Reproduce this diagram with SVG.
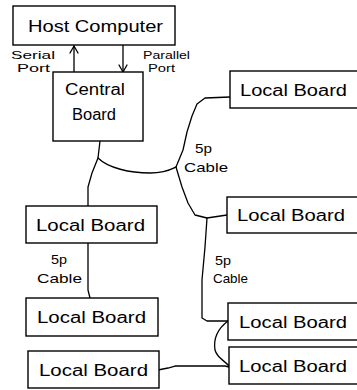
<svg xmlns="http://www.w3.org/2000/svg" width="357" height="390" viewBox="0 0 357 390">
<style>
.box{fill:#fff;stroke:#000;stroke-width:1.4}
.t{font-family:"Liberation Sans",Arial,sans-serif;font-size:16px;fill:#000}
.s{font-family:"Liberation Sans",Arial,sans-serif;font-size:13px;fill:#000}
.p{font-family:"Liberation Sans",Arial,sans-serif;font-size:11px;fill:#000}
.c{fill:none;stroke:#000;stroke-width:1.3;stroke-linejoin:round;stroke-linecap:round}
</style>
<rect width="357" height="390" fill="#fff"/>
<g id="connectors">
<line class="c" x1="74" y1="72" x2="74" y2="46"/>
<polyline class="c" points="70,53 74,46 78,53"/>
<line class="c" x1="123" y1="45" x2="123" y2="72"/>
<polyline class="c" points="119,65 123,72 127,65"/>
<path class="c" d="M100,141 L98,158 L92,173 L88,187 L88,206"/>
<path class="c" d="M98,158 C108,168 130,173 150,173 C165,173 172,169 176,167"/>
<path class="c" d="M176,167 L183,150 L187,132 L192,116 L197,104 L205,98 L230,97"/>
<path class="c" d="M176,167 L182,187 L188,203 L195,215 L207,218 L227,215"/>
<path class="c" d="M207,218 L205,247 L202,280 L202,318 L207,321 L228,321"/>
<path class="c" d="M228,321 C220,327 213,337 215,350 C217,358 224,360 229,366"/>
<path class="c" d="M158,370 L168,368 L175,366 L203,366 L225,366 L229,367"/>
<path class="c" d="M88,243 L88,290 L90,298"/>
</g>
<g id="host"><rect class="box" x="13" y="6" width="162" height="39"/><text class="t" x="28" y="32" textLength="135" lengthAdjust="spacingAndGlyphs">Host Computer</text></g>
<g id="central"><rect class="box" x="53" y="72" width="90" height="69"/><text class="t" x="65" y="95" textLength="60" lengthAdjust="spacingAndGlyphs">Central</text><text class="t" x="72" y="120" textLength="44" lengthAdjust="spacingAndGlyphs">Board</text></g>
<g id="lb-r1"><rect class="box" x="230" y="71" width="135" height="37"/><text class="t" x="240" y="96" textLength="107" lengthAdjust="spacingAndGlyphs">Local Board</text></g>
<g id="lb-r2"><rect class="box" x="227" y="197" width="138" height="36"/><text class="t" x="237" y="221" textLength="108" lengthAdjust="spacingAndGlyphs">Local Board</text></g>
<g id="lb-r3"><rect class="box" x="228" y="303" width="137" height="37"/><text class="t" x="239" y="328" textLength="108" lengthAdjust="spacingAndGlyphs">Local Board</text></g>
<g id="lb-r4"><rect class="box" x="229" y="347" width="136" height="37"/><text class="t" x="239" y="372" textLength="108" lengthAdjust="spacingAndGlyphs">Local Board</text></g>
<g id="lb-l1"><rect class="box" x="26" y="206" width="131" height="37"/><text class="t" x="36" y="231" textLength="109" lengthAdjust="spacingAndGlyphs">Local Board</text></g>
<g id="lb-l2"><rect class="box" x="26" y="298" width="132" height="38"/><text class="t" x="37" y="323" textLength="109" lengthAdjust="spacingAndGlyphs">Local Board</text></g>
<g id="lb-l3"><rect class="box" x="28" y="351" width="131" height="37"/><text class="t" x="39" y="376" textLength="109" lengthAdjust="spacingAndGlyphs">Local Board</text></g>
<g id="labels">
<text class="p" x="11" y="59" textLength="44" lengthAdjust="spacingAndGlyphs">Serial</text>
<text class="p" x="17" y="72" textLength="33" lengthAdjust="spacingAndGlyphs">Port</text>
<text class="p" x="143" y="59" textLength="47" lengthAdjust="spacingAndGlyphs">Parallel</text>
<text class="p" x="148" y="72" textLength="27" lengthAdjust="spacingAndGlyphs">Port</text>
<text class="s" x="195" y="153" textLength="17" lengthAdjust="spacingAndGlyphs">5p</text>
<text class="s" x="184" y="172" textLength="44" lengthAdjust="spacingAndGlyphs">Cable</text>
<text class="s" x="215" y="265" textLength="16" lengthAdjust="spacingAndGlyphs">5p</text>
<text class="s" x="213" y="283" textLength="35" lengthAdjust="spacingAndGlyphs">Cable</text>
<text class="s" x="51" y="264" textLength="16" lengthAdjust="spacingAndGlyphs">5p</text>
<text class="s" x="37" y="283" textLength="45" lengthAdjust="spacingAndGlyphs">Cable</text>
</g>
</svg>
